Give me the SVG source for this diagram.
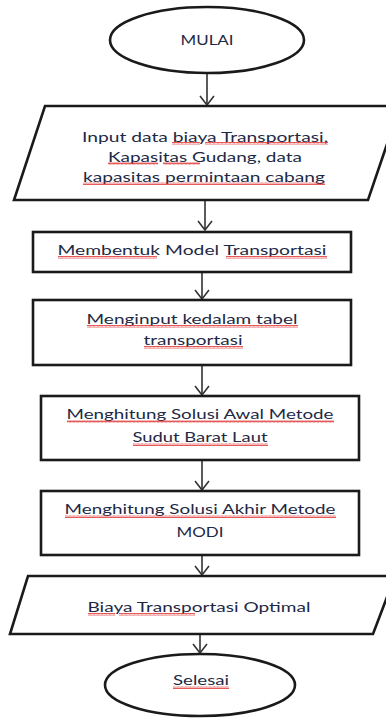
<svg xmlns="http://www.w3.org/2000/svg" width="386" height="718" viewBox="0 0 386 718">
<style>
.shape{fill:#fff;stroke:#1a1a1a;stroke-width:2.6}
.conn{fill:none;stroke:#333;stroke-width:1.6}
.t{font-family:Lato,"Liberation Sans",Arial,sans-serif;font-size:13px;fill:#1e2945;text-anchor:middle}
.sq{fill:url(#wave)}
</style>
<defs>
<marker id="arr" markerUnits="userSpaceOnUse" markerWidth="11" markerHeight="16" viewBox="0 0 11 16" refX="10" refY="8" orient="auto">
<path d="M1,1 L10,8 L1,15" fill="none" stroke="#333" stroke-width="1.6"/>
</marker>
<pattern id="wave" patternUnits="userSpaceOnUse" width="4" height="3">
<path d="M0,2.5 L1,0.5 L2,2.5 L3,0.5 L4,2.5" fill="none" stroke="#e03030" stroke-width="0.8"/>
</pattern>
</defs>
<rect width="386" height="718" fill="#fff"/>
<g id="connectors">
<line class="conn" x1="207" y1="74" x2="207" y2="105" marker-end="url(#arr)"/>
<line class="conn" x1="205" y1="200" x2="205" y2="230" marker-end="url(#arr)"/>
<line class="conn" x1="202" y1="272" x2="202" y2="299" marker-end="url(#arr)"/>
<line class="conn" x1="202" y1="365" x2="202" y2="395" marker-end="url(#arr)"/>
<line class="conn" x1="202" y1="460" x2="202" y2="490" marker-end="url(#arr)"/>
<line class="conn" x1="202" y1="555" x2="202" y2="575" marker-end="url(#arr)"/>
<line class="conn" x1="200" y1="634" x2="200" y2="653" marker-end="url(#arr)"/>
</g>
<g id="mulai">
<ellipse class="shape" cx="207" cy="40" rx="97" ry="33"/>
<text class="t" x="207" y="44.5" textLength="53" lengthAdjust="spacingAndGlyphs">MULAI</text>
</g>
<g id="input">
<polygon class="shape" points="45,106 400,106 368,200 14,200"/>
<text class="t" x="205" y="141.5" textLength="246" lengthAdjust="spacingAndGlyphs">Input data biaya Transportasi,</text>
<text class="t" x="205" y="161.5" textLength="194" lengthAdjust="spacingAndGlyphs">Kapasitas Gudang,  data</text>
<text class="t" x="204" y="181.5" textLength="242" lengthAdjust="spacingAndGlyphs">kapasitas permintaan cabang</text>
<rect class="sq" x="172" y="142" width="28" height="3"/>
<rect class="sq" x="205" y="142" width="123" height="3"/>
<rect class="sq" x="108" y="162" width="50" height="3"/>
<rect class="sq" x="163" y="162" width="37" height="3"/>
<rect class="sq" x="83" y="182" width="242" height="3"/>
</g>
<g id="model">
<rect class="shape" x="33" y="232" width="318" height="40"/>
<text class="t" x="192" y="254.5" textLength="269" lengthAdjust="spacingAndGlyphs">Membentuk  Model Transportasi</text>
<rect class="sq" x="58" y="256" width="99" height="3"/>
<rect class="sq" x="226" y="256" width="101" height="3"/>
</g>
<g id="tabel">
<rect class="shape" x="33" y="300" width="318" height="65"/>
<text class="t" x="192" y="323.5" textLength="211" lengthAdjust="spacingAndGlyphs">Menginput  kedalam tabel</text>
<text class="t" x="193" y="344.5" textLength="99" lengthAdjust="spacingAndGlyphs">transportasi</text>
<rect class="sq" x="87" y="325" width="211" height="3"/>
<rect class="sq" x="144" y="346" width="99" height="3"/>
</g>
<g id="awal">
<rect class="shape" x="41" y="396" width="318" height="64"/>
<text class="t" x="200" y="418.5" textLength="267" lengthAdjust="spacingAndGlyphs">Menghitung  Solusi  Awal Metode</text>
<text class="t" x="200" y="441.5" textLength="135" lengthAdjust="spacingAndGlyphs">Sudut  Barat Laut</text>
<rect class="sq" x="67" y="420" width="267" height="3"/>
<rect class="sq" x="133" y="443" width="135" height="3"/>
</g>
<g id="akhir">
<rect class="shape" x="41" y="491" width="318" height="64"/>
<text class="t" x="200" y="513.5" textLength="271" lengthAdjust="spacingAndGlyphs">Menghitung  Solusi  Akhir Metode</text>
<text class="t" x="200" y="536.5" textLength="47" lengthAdjust="spacingAndGlyphs">MODI</text>
<rect class="sq" x="65" y="515" width="271" height="3"/>
</g>
<g id="biaya">
<polygon class="shape" points="28,576 395,576 373,634 10,634"/>
<text class="t" x="199" y="611.5" textLength="223" lengthAdjust="spacingAndGlyphs">Biaya Transportasi Optimal</text>
<rect class="sq" x="88" y="613" width="27" height="3"/>
<rect class="sq" x="119" y="613" width="76" height="3"/>
</g>
<g id="selesai">
<ellipse class="shape" cx="200" cy="685" rx="95" ry="31"/>
<text class="t" x="201" y="684.5" textLength="56" lengthAdjust="spacingAndGlyphs">Selesai</text>
<rect class="sq" x="173" y="686" width="56" height="3"/>
</g>
</svg>
